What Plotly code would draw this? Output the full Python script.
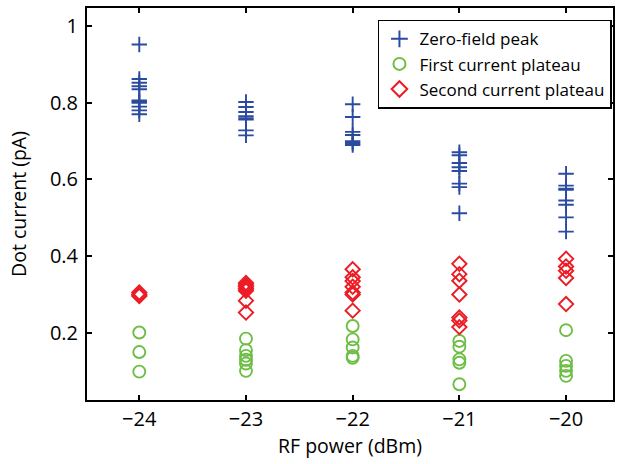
import plotly.graph_objects as go

rf_power = [-24, -23, -22, -21, -20]

zero_field_peak = {
    -24: [0.952, 0.862, 0.852, 0.843, 0.835, 0.806, 0.803, 0.800, 0.790, 0.780, 0.770],
    -23: [0.802, 0.789, 0.776, 0.765, 0.760, 0.756, 0.728, 0.715],
    -22: [0.796, 0.763, 0.724, 0.716, 0.700, 0.695, 0.690],
    -21: [0.671, 0.663, 0.643, 0.632, 0.622, 0.589, 0.580, 0.512],
    -20: [0.615, 0.584, 0.576, 0.573, 0.545, 0.534, 0.501, 0.464],
}
first_plateau = {
    -24: [0.201, 0.150, 0.099],
    -23: [0.185, 0.155, 0.140, 0.130, 0.120, 0.101],
    -22: [0.218, 0.183, 0.162, 0.140, 0.135],
    -21: [0.179, 0.164, 0.131, 0.122, 0.066],
    -20: [0.207, 0.127, 0.114, 0.101, 0.088],
}
second_plateau = {
    -24: [0.305, 0.300, 0.296],
    -23: [0.330, 0.325, 0.320, 0.315, 0.310, 0.284, 0.253],
    -22: [0.366, 0.345, 0.335, 0.320, 0.305, 0.300, 0.258],
    -21: [0.380, 0.353, 0.336, 0.300, 0.240, 0.232, 0.215],
    -20: [0.393, 0.373, 0.362, 0.343, 0.275],
}

def flatten(d):
    xs, ys = [], []
    for x in rf_power:
        for v in d[x]:
            xs.append(x)
            ys.append(v)
    return xs, ys

fig = go.Figure()
series = [
    ("Zero-field peak", zero_field_peak, "cross-thin-open", "#2B4BA0", 11),
    ("First current plateau", first_plateau, "circle-open", "#6DBE45", 12),
    ("Second current plateau", second_plateau, "diamond-open", "#EC1C24", 11),
]
for name, d, sym, col, sz in series:
    xs, ys = flatten(d)
    fig.add_trace(go.Scatter(
        x=xs, y=ys, mode="markers", name=name,
        marker=dict(symbol=sym, size=sz, color=col, line=dict(color=col, width=1.9)),
    ))

axis_common = dict(
    showline=True, linecolor="black", linewidth=2, mirror="ticks",
    ticks="inside", ticklen=5, tickwidth=1.5, tickcolor="black",
    showgrid=False, zeroline=False, automargin=False,
    tickfont=dict(size=20, color="black"),
    title_font=dict(size=19.5, color="black"),
)

fig.update_layout(
    width=618, height=464,
    margin=dict(l=87, r=5, t=8, b=64),
    plot_bgcolor="white", paper_bgcolor="white",
    font=dict(family="Open Sans", color="black"),
    xaxis=dict(range=[-24.49, -19.56], tickvals=rf_power,
               ticktext=["\u221224", "\u221223", "\u221222", "\u221221", "\u221220"],
               title_text="RF power (dBm)", title_standoff=8, **axis_common),
    yaxis=dict(range=[0.025, 1.047], tickvals=[0.2, 0.4, 0.6, 0.8, 1],
               ticktext=["0.2", "0.4", "0.6", "0.8", "1"],
               title_text="Dot current (pA)", title_standoff=18,
               ticklabelstandoff=3, **axis_common),
    legend=dict(x=0.998, y=0.97, xanchor="right", yanchor="top",
                bordercolor="black", borderwidth=1.5, bgcolor="white",
                font=dict(size=17, color="black"), itemsizing="constant"),
    showlegend=True,
)

fig.write_html("out.html", config={"displayModeBar": False},
               post_script="document.body.style.margin='0';document.body.style.overflow='hidden';")
